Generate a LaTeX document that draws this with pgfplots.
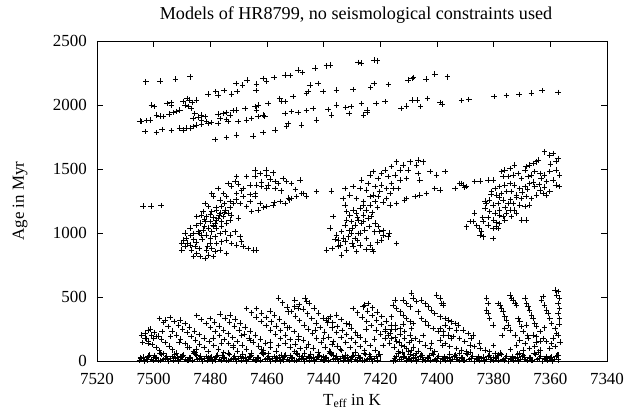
\documentclass[border=0pt]{standalone}
\usepackage{fontspec}
\setmainfont{Liberation Serif}
\usepackage{pgfplots}
\pgfplotsset{compat=1.18}
\pgfplotsset{pts/.style={only marks, mark=+, mark size=2.8bp, line width=0.55pt, black}}
\begin{document}
\begin{tikzpicture}[font=\fontsize{17}{20}\selectfont]
\useasboundingbox (-97bp,-54bp) rectangle (533bp,361bp);
\begin{axis}[at={(0,0)}, anchor=south west, scale only axis,
  width=510bp, height=320bp,
  xmin=7340, xmax=7520, x dir=reverse, ymin=0, ymax=2500,
  xtick={7340,7360,...,7520}, ytick={0,500,...,2500},
  tick align=inside, tick pos=both, major tick length=6bp,
  scaled ticks=false, clip=false,
  /pgf/number format/1000 sep={},
  /pgf/number format/assume math mode=true,
  xticklabel style={inner sep=0pt, yshift=-12bp},
  yticklabel style={inner sep=0pt, xshift=-10bp},
  axis line style={line width=0.8pt}, every tick/.style={line width=0.8pt, black}]
% ---- top band ----
\addplot[pts] coordinates {
(7502.8,2182) (7497.8,2188) (7492.3,2203) (7487.2,2221)
(7480.8,2086) (7478.1,2104) (7477.2,2078) (7475.1,2112) (7472.5,2086) (7471.0,2169) (7470.5,2104) (7468.6,2156) (7467.0,2195) (7463.7,2164) (7463.9,2112) (7461.4,2208) (7460.2,2188) (7457.6,2216) (7453.7,2234) (7451.7,2229) (7449.0,2273) (7447.5,2253) (7443.1,2287) (7439.0,2307) (7437.8,2313)
(7500.8,2000) (7499.9,1987) (7495.2,2013) (7493.9,2018) (7493.7,2000)
(7489.6,2026) (7488.2,2052) (7487.5,2039) (7486.3,2021) (7484.9,2039) (7489.0,2000) (7487.8,1987) (7486.6,1974)
(7490.8,1961) (7491.9,1948) (7493.1,1940) (7494.5,1930) (7496.6,1909) (7497.8,1914) (7499.0,1922) (7501.3,1883) (7502.5,1878) (7504.3,1870) (7504.9,1875)
(7485.5,1935) (7483.1,1922) (7481.9,1909) (7483.1,1883) (7481.4,1870) (7479.6,1862) (7477.2,1857) (7484.3,1904) (7486.1,1896)
(7503.1,1792) (7499.0,1784) (7497.0,1810) (7493.7,1800) (7490.8,1818) (7489.6,1805) (7488.4,1818) (7487.2,1818) (7486.1,1831) (7484.9,1844) (7483.1,1852) (7480.8,1857)
(7477.2,1930) (7475.5,1935) (7474.3,1940) (7473.1,1922) (7471.9,1956) (7471.0,1961) (7467.8,1974) (7464.3,1987) (7463.1,2000) (7463.7,1961) (7461.4,1922) (7459.6,2013) (7455.5,2052) (7454.9,2026) (7453.7,2026) (7450.8,2065) (7446.1,2091) (7445.5,2104) (7440.2,2104) (7435.5,2117) (7444.9,2156) (7442.0,2169)
(7476.6,1896) (7474.3,1888) (7473.7,1870) (7470.2,1870) (7467.2,1883) (7465.5,1896) (7463.1,1909) (7460.8,1914) (7453.7,1935) (7451.4,1948) (7449.0,1940) (7446.1,1956) (7443.7,1974) (7438.4,1966) (7437.2,1922) (7435.5,2000)
(7478.4,1732) (7474.3,1747) (7470.8,1766) (7464.9,1758) (7461.4,1784) (7457.2,1805) (7453.1,1831) (7452.5,1857) (7447.8,1844) (7442.5,1883)
(7429.7,2122) (7423.4,2138) (7422.2,2169) (7417.1,2161) (7410.2,2195) (7408.3,2216) (7408.9,2208) (7403.9,2201) (7400.8,2240) (7396.3,2221)
(7430.4,1987) (7426.6,2013) (7424.7,1961) (7421.5,2013) (7418.4,2026) (7412.7,1974) (7410.8,1992) (7408.9,2039) (7407.0,2039) (7405.8,1987) (7403.3,2052) (7398.9,2018) (7398.2,2008) (7391.3,2034) (7388.8,2044)
(7432.2,1982) (7431.0,1935) (7425.9,1922) (7424.7,1940)
(7427.8,2333) (7426.8,2326) (7422.2,2352) (7421.2,2346)
(7379.9,2065) (7375.5,2073) (7371.1,2083) (7366.7,2094) (7362.9,2112) (7357.3,2099)
};
% ---- cluster 1 ----
\addplot[pts] coordinates {
(7503.7,1210) (7501.0,1210) (7497.4,1215)
(7464.2,1492) (7462.5,1466) (7460.4,1492) (7460.1,1453) (7457.8,1471) (7464.2,1445) (7467.2,1440) (7470.7,1440) (7471.3,1401) (7473.7,1388) (7472.5,1367) (7470.1,1383) (7468.4,1349) (7466.0,1375) (7463.7,1375) (7461.9,1362) (7459.6,1375) (7457.2,1401) (7456.0,1388) (7454.3,1427) (7453.1,1401) (7451.3,1388) (7448.4,1414) (7447.2,1310) (7446.0,1289) (7442.5,1323) (7457.2,1349) (7460.1,1349)
(7469.5,1232) (7467.2,1206) (7465.4,1167) (7463.1,1180) (7462.5,1232) (7460.1,1206) (7457.8,1219) (7455.4,1245) (7453.7,1232) (7451.3,1271) (7449.6,1284) (7466.0,1245) (7464.2,1284) (7468.4,1284) (7470.7,1310)
(7477.2,1349) (7475.4,1310) (7479.5,1310) (7478.9,1284) (7476.6,1258) (7474.3,1284) (7473.1,1245) (7471.9,1232) (7481.9,1232) (7480.7,1206) (7482.5,1167) (7483.1,1141) (7484.8,1128) (7481.3,1128) (7479.5,1167) (7477.8,1180) (7476.0,1206) (7474.8,1180) (7473.7,1154) (7472.5,1141) (7470.1,1115) (7475.4,1128) (7476.6,1154)
(7483.7,1076) (7481.9,1089) (7480.1,1089) (7478.4,1076) (7477.2,1115) (7478.9,1050) (7480.7,1037) (7482.5,1023) (7484.2,1010) (7486.0,997) (7487.2,1037) (7483.1,984) (7481.3,984) (7479.5,1010) (7477.8,1037) (7476.0,1050) (7474.3,1076) (7473.1,1102) (7476.6,997) (7478.4,971)
(7489.5,945) (7488.4,958) (7490.1,919) (7488.9,893) (7490.1,867) (7487.2,906) (7485.4,893) (7486.6,867) (7484.8,841) (7483.7,815) (7486.0,815) (7481.9,802) (7480.7,828) (7481.3,867) (7479.5,880) (7480.1,919) (7477.8,919) (7476.0,932) (7474.3,945) (7478.4,854) (7478.9,815) (7476.6,867)
(7474.8,1010) (7473.1,984) (7471.3,1010) (7469.5,971) (7469.0,932) (7470.7,906) (7468.4,893) (7466.6,880) (7464.8,867) (7463.7,867) (7474.3,841) (7472.5,919)
(7480.0,1150) (7478.0,1100) (7482.0,1050) (7485.0,1060) (7487.0,980) (7489.0,1000) (7485.0,930) (7483.0,950) (7481.0,900) (7479.0,1120) (7477.0,1140) (7475.0,1160) (7473.0,1200) (7471.0,1260) (7469.0,1330) (7466.0,1300) (7464.0,1310) (7462.0,1400) (7459.0,1420) (7455.0,1330) (7452.0,1260) (7450.0,1340)
(7452.4,1275) (7457.6,1237) (7461.2,1198) (7447.8,1310) (7437.2,1328)
(7484.0,1000) (7482.0,1110) (7479.0,1060) (7486.0,950) (7488.0,920) (7484.0,880) (7480.0,960) (7476.0,1090) (7478.0,1200) (7475.0,1230)
};
% ---- cluster 2 ----
\addplot[pts] coordinates {
(7414.3,1557) (7409.6,1557) (7406.7,1570) (7404.9,1557) (7412.0,1531) (7413.1,1492) (7410.2,1492) (7407.2,1531) (7416.1,1518) (7418.4,1492) (7419.6,1466) (7422.5,1479) (7423.7,1453) (7420.8,1427) (7417.2,1440) (7414.9,1453) (7413.1,1414) (7410.8,1427) (7406.7,1466) (7406.1,1414) (7402.5,1479) (7400.2,1453) (7397.2,1479) (7426.6,1414)
(7424.3,1388) (7421.9,1362) (7419.6,1375) (7417.8,1349) (7415.5,1349) (7413.7,1349) (7416.1,1388) (7420.2,1323) (7422.5,1297) (7424.9,1336) (7427.2,1349) (7429.6,1362) (7432.5,1349) (7430.8,1297) (7428.4,1271) (7426.0,1245) (7423.7,1284) (7421.9,1245) (7423.7,1219) (7420.8,1284)
(7417.8,1271) (7416.6,1219) (7414.3,1232) (7411.4,1258) (7410.8,1271) (7407.8,1284) (7406.1,1297) (7403.7,1310) (7400.8,1349) (7399.0,1336) (7393.7,1349) (7391.4,1388) (7389.6,1362) (7416.6,1310)
(7437.2,1328) (7436.6,1128) (7437.8,1037) (7435.5,984) (7433.1,1271) (7432.5,1219) (7431.9,1167) (7430.8,1141) (7429.6,1180) (7428.4,1154) (7427.2,1193) (7426.0,1141) (7427.8,1102) (7426.6,1076) (7429.0,1063) (7430.2,1089) (7432.5,1063) (7433.7,1011) (7434.9,945) (7434.3,906) (7432.5,932) (7431.3,971) (7430.2,997) (7429.0,958) (7429.6,893) (7428.4,854) (7431.9,867) (7433.7,828) (7439.0,867) (7427.8,997) (7425.5,1024) (7426.0,1089) (7424.3,1115) (7423.1,1128) (7421.9,1076) (7420.8,1050) (7420.2,1011) (7419.0,984) (7417.2,971) (7414.3,919) (7419.6,945) (7422.5,854) (7424.9,958) (7423.7,906) (7427.2,906)
(7428.0,1120) (7430.0,1040) (7432.0,1100) (7425.0,1180) (7423.0,1160) (7421.0,1200) (7419.0,1240) (7426.0,1220) (7424.0,1050) (7427.0,1000) (7431.0,1020) (7433.0,960) (7435.0,900) (7437.0,880) (7436.0,950) (7430.0,920) (7428.0,940) (7425.0,870) (7422.0,1010) (7419.0,1020) (7417.0,1000) (7421.0,930) (7423.0,870)
};
% ---- cluster 3 ----
\addplot[pts] coordinates {
(7393.7,1349) (7392.0,1388) (7390.8,1375) (7390.2,1354) (7389.6,1362) (7386.7,1401) (7384.9,1406) (7382.0,1414) (7380.2,1414)
(7377.3,1479) (7376.1,1492) (7374.3,1505) (7372.6,1531) (7376.7,1440) (7374.9,1440) (7373.1,1453) (7371.4,1466) (7370.2,1427) (7369.0,1492) (7368.5,1518) (7367.3,1531) (7366.1,1544) (7364.9,1557) (7364.3,1570) (7362.0,1635) (7360.2,1609) (7359.0,1622) (7357.3,1583) (7357.9,1492) (7356.7,1453) (7360.2,1479) (7362.0,1453) (7363.7,1466) (7365.5,1479) (7366.7,1453) (7367.9,1440) (7363.2,1427) (7361.4,1401) (7359.0,1414) (7357.9,1375) (7356.7,1362) (7360.2,1323) (7362.6,1310) (7361.4,1297) (7363.7,1336) (7365.5,1362) (7367.3,1388) (7369.0,1362) (7370.8,1349) (7372.6,1375) (7374.3,1388) (7376.1,1375) (7377.9,1362) (7379.6,1349) (7380.8,1323) (7379.0,1297) (7377.3,1310) (7375.5,1323) (7373.7,1323) (7372.0,1297) (7370.2,1271) (7368.5,1284) (7366.7,1271) (7364.9,1297)
(7367.3,1219) (7369.0,1206) (7370.8,1219) (7372.6,1180) (7374.3,1180) (7375.5,1154) (7376.7,1128) (7377.9,1141) (7379.6,1154) (7381.4,1167) (7383.1,1193) (7382.6,1232) (7381.4,1258) (7380.2,1219) (7378.4,1232) (7376.7,1258) (7374.9,1232) (7373.1,1232) (7373.7,1128) (7376.1,1102) (7377.9,1075) (7379.0,1049) (7380.2,1036) (7382.0,1062) (7383.7,1089) (7386.7,1154) (7387.3,1089) (7389.6,1049) (7388.4,1089) (7384.3,1010) (7384.9,984) (7383.7,971) (7380.2,958) (7378.4,1036) (7370.2,1102) (7368.5,1102) (7372.0,1154)
(7382.0,1120) (7380.0,1100) (7378.0,1180) (7376.0,1200) (7374.0,1260) (7372.0,1280) (7370.0,1320) (7368.0,1340) (7366.0,1400) (7364.0,1380) (7362.0,1360) (7360.0,1540) (7358.0,1560) (7378.0,1280) (7381.0,1300) (7383.0,1250) (7385.0,1040) (7386.0,1060) (7384.0,1120) (7379.0,1080)
};
% ---- bottom band: tracks ----
\addplot[pts] coordinates {
(7504.2,203) (7503.0,180) (7501.8,155) (7500.5,128) (7499.2,104) (7497.9,80) (7496.7,58) (7495.4,34)
(7501.1,250) (7499.8,224) (7498.5,196) (7497.2,170) (7495.9,143) (7494.6,116) (7493.3,88) (7492.0,61) (7490.7,34)
(7503.1,216) (7501.9,242) (7500.7,203) (7502.7,177) (7503.9,146) (7501.9,138) (7500.1,177) (7499.2,190)
(7498.0,333) (7496.5,300) (7495.0,268) (7493.5,236) (7492.0,203) (7490.5,170) (7489.0,138) (7487.5,105) (7486.0,73) (7484.8,47)
(7496.0,320) (7494.3,339) (7492.8,310) (7491.3,280) (7489.8,251) (7488.3,222) (7486.8,192) (7485.3,163) (7483.8,133) (7482.3,104) (7480.8,75)
(7490.7,320) (7489.0,292) (7487.3,264) (7485.6,236) (7483.9,207) (7482.2,179) (7480.5,151) (7478.8,122) (7477.1,94) (7475.4,66)
(7484.8,354) (7483.2,323) (7481.6,292) (7480.0,261) (7478.4,230) (7476.8,199) (7475.2,168) (7473.6,137) (7472.0,106) (7470.4,76)
(7480.1,333) (7478.5,303) (7476.9,273) (7475.3,243) (7473.7,213) (7472.1,183) (7470.5,153) (7468.9,123) (7467.3,93) (7465.7,63)
(7476.6,365) (7474.9,334) (7473.2,303) (7471.5,272) (7469.8,242) (7468.1,211) (7466.4,180) (7464.7,149) (7463.0,118) (7461.3,87) (7459.6,57)
(7473.1,359) (7471.3,328) (7469.5,297) (7467.7,266) (7465.9,235) (7464.1,203) (7462.3,172) (7460.5,141) (7458.7,110) (7456.9,79) (7455.1,48)
(7467.2,411) (7465.5,377) (7463.8,344) (7462.1,310) (7460.4,276) (7458.7,243) (7457.0,209) (7455.3,175) (7453.6,142) (7451.9,108) (7450.2,74) (7448.5,40)
(7463.7,411) (7462.0,376) (7460.3,341) (7458.6,307) (7456.9,272) (7455.2,237) (7453.5,203) (7451.8,168) (7450.1,133) (7448.4,98) (7446.7,64) (7445.0,30)
(7459.0,390) (7457.3,358) (7455.6,326) (7453.9,294) (7452.2,261) (7450.5,229) (7448.8,197) (7447.1,165) (7445.4,133) (7443.7,101) (7442.0,69) (7440.3,36)
(7456.0,490) (7454.5,455) (7453.0,421) (7451.5,386) (7450.0,352) (7448.5,317) (7447.0,283) (7445.5,248) (7444.0,214) (7442.5,179) (7441.0,145) (7439.5,110) (7438.0,76) (7436.5,41)
(7450.2,477) (7448.7,441) (7447.2,405) (7445.7,369) (7444.2,333) (7442.7,297) (7441.2,261) (7439.7,225) (7438.2,189) (7436.7,153) (7435.2,117) (7433.7,81) (7432.2,45)
(7446.6,490) (7445.0,452) (7443.4,414) (7441.8,375) (7440.2,337) (7438.6,299) (7437.0,260) (7435.4,222) (7433.8,184) (7432.2,146) (7430.6,107) (7429.0,69)
(7438.4,330) (7436.8,300) (7435.2,269) (7433.6,238) (7432.0,207) (7430.4,176) (7428.8,145) (7427.2,114) (7425.6,83) (7424.0,52)
(7435.5,359) (7433.8,325) (7432.1,291) (7430.4,257) (7428.7,223) (7427.0,189) (7425.3,155) (7423.6,121) (7421.9,87) (7420.2,53)
(7429.6,411) (7428.0,377) (7426.4,344) (7424.8,310) (7423.2,276) (7421.6,243) (7420.0,209) (7418.4,175) (7416.8,142) (7415.2,108) (7413.6,74) (7412.0,40)
(7426.1,424) (7424.5,390) (7422.9,355) (7421.3,320) (7419.7,286) (7418.1,251) (7416.5,217) (7414.9,182) (7413.3,147) (7411.7,113) (7410.1,78) (7408.5,44)
(7424.3,450) (7422.7,416) (7421.1,382) (7419.5,348) (7417.9,314) (7416.3,280) (7414.7,246) (7413.1,212) (7411.5,178) (7409.9,144) (7408.3,110) (7406.7,76) (7405.1,42)
(7452.5,385) (7450.2,424) (7449.0,411) (7446.0,464) (7439.0,320) (7437.8,346) (7425.5,437)
(7497.0,230) (7494.0,190) (7491.0,150) (7488.0,110) (7485.0,95) (7479.0,180) (7476.0,140) (7472.0,120) (7469.0,200) (7466.0,160) (7462.0,95) (7459.0,150) (7456.0,120) (7453.0,260) (7449.0,170) (7446.0,110) (7443.0,240) (7440.0,180) (7437.0,130) (7434.0,95) (7431.0,290) (7428.0,200) (7425.0,250) (7422.0,170) (7419.0,120) (7416.0,250) (7412.0,290) (7409.0,160) (7405.0,200) (7402.0,140) (7398.0,120) (7395.0,180) (7392.0,60) (7388.0,180) (7385.0,140) (7380.0,120) (7377.0,200) (7374.0,90) (7371.0,60) (7368.0,200) (7365.0,150) (7362.0,260) (7359.0,180) (7357.0,290) (7356.5,150)
};
% ---- bottom band: right part ----
\addplot[pts] coordinates {
(7409.0,529) (7408.4,490) (7407.2,464)
(7414.9,477) (7415.5,437) (7414.3,411) (7413.1,385) (7411.9,359) (7410.8,333) (7409.6,307) (7408.4,294)
(7411.9,477) (7410.8,450) (7409.6,424)
(7405.5,477) (7404.3,450) (7403.1,424) (7402.0,398) (7400.8,372)
(7400.2,516) (7399.0,490) (7397.8,450)
(7416.1,346) (7414.9,281) (7413.1,255) (7411.4,229) (7409.6,203) (7407.8,177) (7406.1,151) (7404.3,125) (7402.5,99) (7400.8,73)
(7406.7,385) (7405.5,333) (7404.3,307) (7403.1,281) (7401.4,255) (7399.6,229) (7397.8,203) (7409.0,255)
(7418.4,229) (7417.2,203) (7416.1,177) (7414.3,151) (7412.5,125) (7410.8,99) (7409.0,86) (7407.2,60)
(7398.4,450) (7397.8,437)
(7399.0,346) (7397.2,333) (7396.1,320) (7394.9,307) (7393.7,294) (7392.5,281)
(7397.2,281) (7395.5,255) (7393.1,242) (7390.8,242) (7389.0,216) (7387.3,203)
(7394.3,190) (7392.0,177) (7390.2,151) (7388.4,125) (7386.7,112) (7384.9,99) (7383.1,86) (7381.4,73) (7379.6,60) (7378.4,47)
(7399.0,255) (7397.8,229) (7396.1,203) (7399.0,164) (7397.2,138) (7395.5,112) (7393.1,99) (7391.4,86) (7389.6,73)
(7382.5,490) (7381.9,450) (7382.5,398) (7381.9,372) (7381.4,333) (7380.2,281) (7376.1,255) (7374.3,242) (7372.5,203) (7370.8,164) (7369.0,138) (7367.3,99) (7365.5,112) (7363.7,86)
(7378.4,450) (7377.8,437) (7377.3,411) (7376.7,385) (7376.1,346) (7375.5,320) (7374.9,281)
(7374.3,516) (7373.7,490) (7373.1,477) (7372.5,450) (7372.0,437) (7371.4,333) (7370.8,307) (7370.2,268) (7369.6,229)
(7369.0,490) (7368.4,450) (7367.8,424) (7367.3,398) (7366.7,359) (7366.1,333) (7365.5,294) (7364.9,268) (7363.7,229)
(7363.1,477) (7362.5,503) (7362.0,437) (7361.4,398) (7360.8,372) (7360.2,333) (7359.6,294) (7358.4,255) (7357.8,216) (7357.3,203)
(7358.4,555) (7357.3,542) (7357.8,516) (7356.7,490) (7357.3,450) (7356.7,411) (7357.3,372) (7356.7,333)
(7367.8,177) (7366.1,203) (7369.6,86) (7372.0,125) (7360.2,99) (7358.4,112) (7357.3,47) (7361.4,34) (7368.4,281) (7362.5,177) (7361.4,151) (7359.6,138) (7363.7,151) (7364.9,190)
};
% ---- bottom band: dense base rows ----
\addplot[pts] coordinates {
(7505.0,8) (7503.8,32) (7502.6,15) (7501.4,48) (7500.2,3) (7499.0,24) (7497.8,62) (7496.6,11) (7495.4,38) (7494.2,20)
(7493.0,8) (7491.8,32) (7490.6,15) (7489.4,48) (7488.2,3) (7487.0,24) (7485.8,62) (7484.6,11) (7483.4,38) (7482.2,20)
(7481.0,8) (7479.8,32) (7478.6,15) (7477.4,48) (7476.2,3) (7475.0,24) (7473.8,62) (7472.6,11) (7471.4,38) (7470.2,20)
(7469.0,8) (7467.8,32) (7466.6,15) (7465.4,48) (7464.2,3) (7463.0,24) (7461.8,62) (7460.6,11) (7459.4,38) (7458.2,20)
(7457.0,8) (7455.8,32) (7454.6,15) (7453.4,48) (7452.2,3) (7451.0,24) (7449.8,62) (7448.6,11) (7447.4,38) (7446.2,20)
(7445.0,8) (7443.8,32) (7442.6,15) (7441.4,48) (7440.2,3) (7439.0,24) (7437.8,62) (7436.6,11) (7435.4,38) (7434.2,20)
(7433.0,8) (7431.8,32) (7430.6,15) (7429.4,48) (7428.2,3) (7427.0,24) (7425.8,62) (7424.6,11) (7423.4,38) (7422.2,20)
(7421.0,8) (7415.0,24) (7413.8,62) (7412.6,11) (7411.4,38) (7410.2,20)
(7409.0,8) (7407.8,32) (7406.6,15) (7405.4,48) (7404.2,3) (7403.0,24) (7401.8,62) (7400.6,11) (7399.4,38) (7398.2,20)
(7397.0,8) (7395.8,32) (7394.6,15) (7393.4,48) (7392.2,3) (7391.0,24) (7389.8,62) (7388.6,11) (7387.4,38) (7386.2,20)
(7385.0,8) (7383.8,32) (7382.6,15) (7381.4,48) (7380.2,3) (7379.0,24) (7377.8,62) (7376.6,11) (7375.4,38) (7374.2,20)
(7373.0,8) (7371.8,32) (7370.6,15) (7369.4,48) (7368.2,3) (7367.0,24) (7365.8,62) (7364.6,11) (7363.4,38) (7362.2,20)
(7361.0,8) (7359.8,32) (7358.6,15) (7357.4,48)
(7504.4,18) (7503.2,2) (7502.0,40) (7500.8,12) (7499.6,28) (7498.4,6) (7497.2,52) (7496.0,22) (7494.8,0) (7493.6,34)
(7492.4,18) (7491.2,2) (7490.0,40) (7488.8,12) (7487.6,28) (7486.4,6) (7485.2,52) (7484.0,22) (7482.8,0) (7481.6,34)
(7480.4,18) (7479.2,2) (7478.0,40) (7476.8,12) (7475.6,28) (7474.4,6) (7473.2,52) (7472.0,22) (7470.8,0) (7469.6,34)
(7468.4,18) (7467.2,2) (7466.0,40) (7464.8,12) (7463.6,28) (7462.4,6) (7461.2,52) (7460.0,22) (7458.8,0) (7457.6,34)
(7456.4,18) (7455.2,2) (7454.0,40) (7452.8,12) (7451.6,28) (7450.4,6) (7449.2,52) (7448.0,22) (7446.8,0) (7445.6,34)
(7444.4,18) (7443.2,2) (7442.0,40) (7440.8,12) (7439.6,28) (7438.4,6) (7437.2,52) (7436.0,22) (7434.8,0) (7433.6,34)
(7432.4,18) (7431.2,2) (7430.0,40) (7428.8,12) (7427.6,28) (7426.4,6) (7425.2,52) (7424.0,22) (7422.8,0) (7421.6,34)
(7415.6,2) (7414.4,40) (7413.2,12) (7412.0,28) (7410.8,6) (7409.6,52)
(7408.4,18) (7407.2,2) (7406.0,40) (7404.8,12) (7403.6,28) (7402.4,6) (7401.2,52) (7400.0,22) (7398.8,0) (7397.6,34)
(7396.4,18) (7395.2,2) (7394.0,40) (7392.8,12) (7391.6,28) (7390.4,6) (7389.2,52) (7388.0,22) (7386.8,0) (7385.6,34)
(7384.4,18) (7383.2,2) (7382.0,40) (7380.8,12) (7379.6,28) (7378.4,6) (7377.2,52) (7376.0,22) (7374.8,0) (7373.6,34)
(7372.4,18) (7371.2,2) (7370.0,40) (7368.8,12) (7367.6,28) (7366.4,6) (7365.2,52) (7364.0,22) (7362.8,0) (7361.6,34)
(7360.4,18) (7359.2,2) (7358.0,40)
(7504.7,26) (7502.3,10) (7499.9,44) (7497.5,4) (7495.1,16) (7492.7,56) (7490.3,30) (7487.9,8) (7485.5,70) (7483.1,14)
(7480.7,26) (7478.3,10) (7475.9,44) (7473.5,4) (7471.1,16) (7468.7,56) (7466.3,30) (7463.9,8) (7461.5,70) (7459.1,14)
(7456.7,26) (7454.3,10) (7451.9,44) (7449.5,4) (7447.1,16) (7444.7,56) (7442.3,30) (7439.9,8) (7437.5,70) (7435.1,14)
(7432.7,26) (7430.3,10) (7427.9,44) (7425.5,4) (7423.1,16) (7420.7,56) (7414.7,8) (7412.3,70) (7409.9,14)
(7407.5,26) (7405.1,10) (7402.7,44) (7400.3,4) (7397.9,16) (7395.5,56) (7393.1,30) (7390.7,8) (7388.3,70) (7385.9,14)
(7383.5,26) (7381.1,10) (7378.7,44) (7376.3,4) (7373.9,16) (7371.5,56) (7369.1,30) (7366.7,8) (7364.3,70) (7361.9,14) (7359.5,26) (7357.1,10)
};
\end{axis}
\node[anchor=base, font=\fontsize{18.2}{21}\selectfont] at (259bp,341.7bp) {Models of HR8799, no seismological constraints used};
\node[anchor=base] at (255bp,-44bp) {T\textsubscript{eff} in K};
\node[anchor=base, rotate=90] at (-73bp,160bp) {Age in Myr};
\end{tikzpicture}
\end{document}
